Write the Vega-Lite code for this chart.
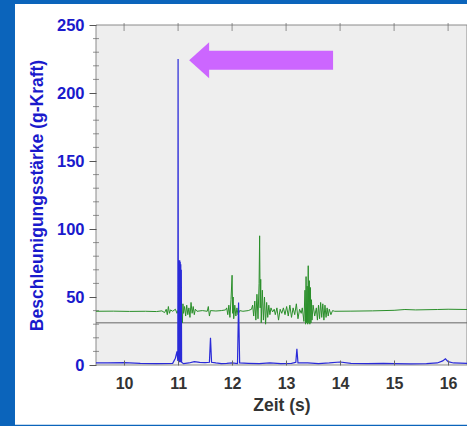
{
  "$schema": "https://vega.github.io/schema/vega-lite/v6.json",
  "width": 371,
  "height": 340,
  "autosize": {"type": "none"},
  "padding": {"left": 96, "top": 25, "right": 0, "bottom": 61},
  "background": "#0b64bb",
  "config": {
    "view": {"stroke": null},
    "font": "Liberation Sans"
  },
  "datasets": {
    "blue": [
      {"t": 9.48, "g": 1.5}, {"t": 9.7, "g": 1.5}, {"t": 10.0, "g": 1.8}, {"t": 10.3, "g": 1.2}, {"t": 10.6, "g": 1.0},
      {"t": 10.9, "g": 1.2}, {"t": 10.95, "g": 5}, {"t": 10.98, "g": 10}, {"t": 10.995, "g": 3}, {"t": 11.0, "g": 225},
      {"t": 11.005, "g": 5}, {"t": 11.01, "g": 77}, {"t": 11.015, "g": 2}, {"t": 11.02, "g": 77}, {"t": 11.025, "g": 3},
      {"t": 11.03, "g": 77}, {"t": 11.035, "g": 2}, {"t": 11.04, "g": 76}, {"t": 11.045, "g": 3}, {"t": 11.05, "g": 74},
      {"t": 11.055, "g": 2}, {"t": 11.06, "g": 70}, {"t": 11.065, "g": 2},
      {"t": 11.1, "g": 1}, {"t": 11.2, "g": 1.5}, {"t": 11.3, "g": 2.5}, {"t": 11.4, "g": 2},
      {"t": 11.5, "g": 1.8}, {"t": 11.58, "g": 2}, {"t": 11.6, "g": 20}, {"t": 11.62, "g": 2}, {"t": 11.7, "g": 1.5},
      {"t": 11.8, "g": 1}, {"t": 11.9, "g": 1.2}, {"t": 12.0, "g": 1.5}, {"t": 12.1, "g": 1.0}, {"t": 12.12, "g": 46},
      {"t": 12.14, "g": 1.5}, {"t": 12.3, "g": 1.2}, {"t": 12.5, "g": 1.0}, {"t": 12.7, "g": 1.5}, {"t": 12.9, "g": 1.0},
      {"t": 13.1, "g": 1.2}, {"t": 13.18, "g": 2}, {"t": 13.2, "g": 12}, {"t": 13.22, "g": 1.5}, {"t": 13.4, "g": 1.5},
      {"t": 13.6, "g": 1.0}, {"t": 13.8, "g": 1.5}, {"t": 14.0, "g": 2.2}, {"t": 14.2, "g": 1.2}, {"t": 14.5, "g": 1.0},
      {"t": 14.8, "g": 1.2}, {"t": 15.0, "g": 1.0}, {"t": 15.3, "g": 0.8}, {"t": 15.6, "g": 1.0}, {"t": 15.8, "g": 1.5},
      {"t": 15.9, "g": 3}, {"t": 15.95, "g": 4.5}, {"t": 16.0, "g": 2.5}, {"t": 16.1, "g": 1.5}, {"t": 16.35, "g": 1.2}
    ],
    "green": [
      {"t": 9.48, "g": 39.5}, {"t": 9.8, "g": 39.6}, {"t": 10.1, "g": 39.4}, {"t": 10.4, "g": 39.5}, {"t": 10.6, "g": 39.3},
      {"t": 10.7, "g": 39.8}, {"t": 10.75, "g": 38.5}, {"t": 10.78, "g": 41}, {"t": 10.8, "g": 37}, {"t": 10.82, "g": 43},
      {"t": 10.84, "g": 38}, {"t": 10.86, "g": 40.5}, {"t": 10.9, "g": 39.5}, {"t": 10.95, "g": 41}, {"t": 10.98, "g": 38},
      {"t": 11.0, "g": 40}, {"t": 11.06, "g": 44}, {"t": 11.07, "g": 36}, {"t": 11.08, "g": 31}, {"t": 11.09, "g": 45},
      {"t": 11.1, "g": 38}, {"t": 11.12, "g": 43}, {"t": 11.14, "g": 36}, {"t": 11.16, "g": 44}, {"t": 11.18, "g": 37},
      {"t": 11.2, "g": 42}, {"t": 11.22, "g": 35}, {"t": 11.24, "g": 46}, {"t": 11.26, "g": 38}, {"t": 11.28, "g": 43},
      {"t": 11.3, "g": 37}, {"t": 11.32, "g": 41}, {"t": 11.35, "g": 39.5}, {"t": 11.45, "g": 40}, {"t": 11.54, "g": 39.5},
      {"t": 11.56, "g": 43}, {"t": 11.58, "g": 36}, {"t": 11.6, "g": 40}, {"t": 11.7, "g": 39.7}, {"t": 11.8, "g": 40},
      {"t": 11.88, "g": 40.5}, {"t": 11.9, "g": 42}, {"t": 11.92, "g": 37}, {"t": 11.94, "g": 44}, {"t": 11.96, "g": 35},
      {"t": 11.98, "g": 48}, {"t": 12.0, "g": 66}, {"t": 12.01, "g": 38}, {"t": 12.02, "g": 50}, {"t": 12.03, "g": 34},
      {"t": 12.05, "g": 44}, {"t": 12.07, "g": 36}, {"t": 12.09, "g": 42}, {"t": 12.11, "g": 37}, {"t": 12.14, "g": 40},
      {"t": 12.2, "g": 39.5}, {"t": 12.3, "g": 40}, {"t": 12.36, "g": 41}, {"t": 12.38, "g": 44}, {"t": 12.4, "g": 36},
      {"t": 12.42, "g": 47}, {"t": 12.44, "g": 33}, {"t": 12.46, "g": 52}, {"t": 12.48, "g": 34}, {"t": 12.5, "g": 60},
      {"t": 12.51, "g": 95}, {"t": 12.52, "g": 42}, {"t": 12.53, "g": 63}, {"t": 12.54, "g": 31}, {"t": 12.56, "g": 55},
      {"t": 12.58, "g": 33}, {"t": 12.6, "g": 50}, {"t": 12.62, "g": 30}, {"t": 12.64, "g": 46}, {"t": 12.66, "g": 35},
      {"t": 12.68, "g": 44}, {"t": 12.7, "g": 37}, {"t": 12.72, "g": 42}, {"t": 12.75, "g": 39}, {"t": 12.78, "g": 41},
      {"t": 12.8, "g": 37}, {"t": 12.83, "g": 42}, {"t": 12.86, "g": 33}, {"t": 12.89, "g": 41}, {"t": 12.92, "g": 38},
      {"t": 12.95, "g": 42}, {"t": 12.98, "g": 37}, {"t": 13.01, "g": 43}, {"t": 13.04, "g": 36}, {"t": 13.07, "g": 44},
      {"t": 13.1, "g": 35}, {"t": 13.13, "g": 42}, {"t": 13.16, "g": 37}, {"t": 13.19, "g": 45}, {"t": 13.22, "g": 34},
      {"t": 13.25, "g": 41}, {"t": 13.28, "g": 38}, {"t": 13.3, "g": 42}, {"t": 13.33, "g": 32}, {"t": 13.35, "g": 55},
      {"t": 13.36, "g": 30}, {"t": 13.37, "g": 65}, {"t": 13.38, "g": 31}, {"t": 13.39, "g": 58}, {"t": 13.4, "g": 30},
      {"t": 13.41, "g": 73}, {"t": 13.42, "g": 31}, {"t": 13.43, "g": 62}, {"t": 13.44, "g": 30}, {"t": 13.45, "g": 57},
      {"t": 13.46, "g": 31}, {"t": 13.47, "g": 48}, {"t": 13.48, "g": 33}, {"t": 13.5, "g": 44}, {"t": 13.53, "g": 36},
      {"t": 13.56, "g": 42}, {"t": 13.58, "g": 33}, {"t": 13.6, "g": 44}, {"t": 13.62, "g": 34}, {"t": 13.64, "g": 46},
      {"t": 13.66, "g": 35}, {"t": 13.68, "g": 45}, {"t": 13.7, "g": 33}, {"t": 13.72, "g": 44}, {"t": 13.74, "g": 35},
      {"t": 13.76, "g": 42}, {"t": 13.78, "g": 36}, {"t": 13.8, "g": 41}, {"t": 13.83, "g": 37}, {"t": 13.86, "g": 40},
      {"t": 13.9, "g": 39.5}, {"t": 14.2, "g": 39.6}, {"t": 14.6, "g": 39.8}, {"t": 15.0, "g": 40.2}, {"t": 15.2, "g": 40.8},
      {"t": 15.4, "g": 40.5}, {"t": 15.8, "g": 40.8}, {"t": 16.0, "g": 41}, {"t": 16.35, "g": 40.8}
    ],
    "minor": [
      {"v": 10}, {"v": 20}, {"v": 30}, {"v": 40}, {"v": 60}, {"v": 70}, {"v": 80}, {"v": 90},
      {"v": 110}, {"v": 120}, {"v": 130}, {"v": 140}, {"v": 160}, {"v": 170}, {"v": 180}, {"v": 190},
      {"v": 210}, {"v": 220}, {"v": 230}, {"v": 240}
    ],
    "topticks": [
      {"s": 10}, {"s": 11}, {"s": 12}, {"s": 13}, {"s": 14}, {"s": 15}, {"s": 16}
    ]
  },
  "layer": [
    {
      "data": {"values": [{"k": 1}]},
      "mark": {"type": "rect", "fill": "#ffffff", "clip": false},
      "encoding": {
        "x": {
          "datum": 7.98, "type": "quantitative",
          "scale": {"domain": [9.48, 16.35], "nice": false, "zero": false},
          "axis": {
            "title": "Zeit (s)", "values": [10, 11, 12, 13, 14, 15, 16], "format": "d",
            "grid": false, "domain": false, "zindex": 1,
            "tickSize": -5, "tickColor": "#666",
            "labelFont": "Liberation Sans", "labelFontSize": 16, "labelFontWeight": "bold", "labelColor": "#333333",
            "labelPadding": 15,
            "titleFont": "Liberation Sans", "titleFontSize": 17.5, "titleFontWeight": "bold", "titleColor": "#333333",
            "titlePadding": 5
          }
        },
        "x2": {"datum": 17.2},
        "y": {
          "datum": -44, "type": "quantitative",
          "scale": {"domain": [0, 250], "nice": false, "zero": false},
          "axis": {
            "title": "Beschleunigungsstärke (g-Kraft)",
            "values": [0, 50, 100, 150, 200, 250], "format": "d",
            "labelOverlap": false,
            "grid": false, "domain": false, "zindex": 1,
            "tickSize": 7, "tickColor": "#555",
            "labelFont": "Liberation Sans", "labelFontSize": 16.5, "labelFontWeight": "bold", "labelColor": "#1a1acc",
            "labelPadding": 5,
            "titleFont": "Liberation Sans", "titleFontSize": 17.5, "titleFontWeight": "bold", "titleColor": "#1a1acc",
            "titlePadding": 10
          }
        },
        "y2": {"datum": 265.4}
      }
    },
    {
      "data": {"values": [{"k": 1}]},
      "mark": {"type": "rect", "fill": "#eeeeee", "stroke": "#8a8a8a", "strokeWidth": 1},
      "encoding": {
        "x": {"datum": 9.48, "type": "quantitative"}, "x2": {"datum": 16.35},
        "y": {"datum": 0, "type": "quantitative"}, "y2": {"datum": 250}
      }
    },
    {
      "data": {"name": "minor"},
      "mark": {"type": "tick", "orient": "horizontal", "color": "#666666", "size": 6, "thickness": 1, "clip": false},
      "encoding": {
        "x": {"datum": 9.48, "type": "quantitative"},
        "y": {"field": "v", "type": "quantitative"}
      }
    },
    {
      "data": {"name": "topticks"},
      "mark": {"type": "tick", "orient": "vertical", "color": "#666666", "size": 8, "thickness": 1, "yOffset": 2},
      "encoding": {
        "x": {"field": "s", "type": "quantitative"},
        "y": {"datum": 250, "type": "quantitative"}
      }
    },
    {
      "data": {"values": [{"k": 1}]},
      "mark": {"type": "rule", "color": "#666666", "strokeWidth": 1},
      "encoding": {"y": {"datum": 31, "type": "quantitative"}}
    },
    {
      "data": {"name": "green"},
      "mark": {"type": "line", "color": "#2a8f2a", "strokeWidth": 1},
      "encoding": {
        "x": {"field": "t", "type": "quantitative"},
        "y": {"field": "g", "type": "quantitative"}
      }
    },
    {
      "data": {"name": "blue"},
      "mark": {"type": "line", "color": "#2a2ad8", "strokeWidth": 1.2},
      "encoding": {
        "x": {"field": "t", "type": "quantitative"},
        "y": {"field": "g", "type": "quantitative"}
      }
    },
    {
      "data": {"values": [{"k": 1}]},
      "mark": {"type": "rule", "color": "#cc66ff", "strokeWidth": 19},
      "encoding": {
        "x": {"datum": 11.57, "type": "quantitative"}, "x2": {"datum": 13.87},
        "y": {"datum": 224, "type": "quantitative"}
      }
    },
    {
      "data": {"values": [{"k": 1}]},
      "mark": {"type": "point", "shape": "M0.556,-1 L-0.556,0 L0.556,1 Z", "filled": true, "color": "#cc66ff", "opacity": 1, "size": 1296},
      "encoding": {
        "x": {"datum": 11.39, "type": "quantitative"},
        "y": {"datum": 224, "type": "quantitative"}
      }
    }
  ]
}
